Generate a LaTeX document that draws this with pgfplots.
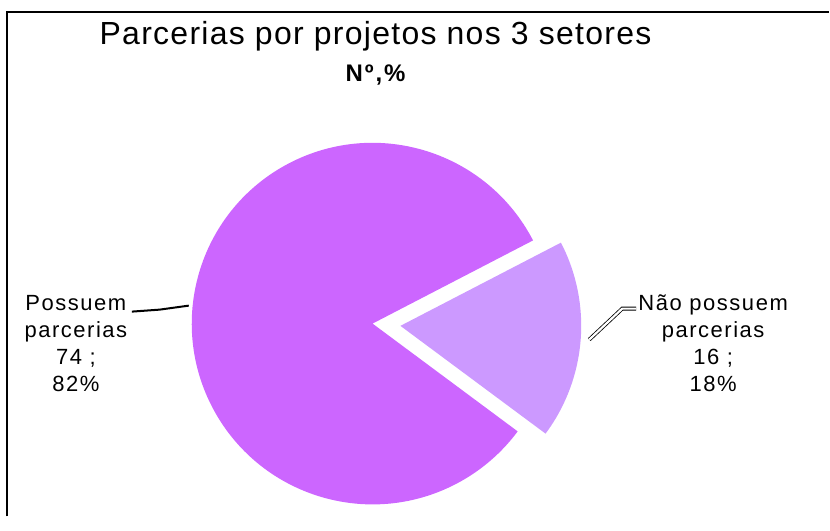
\documentclass[border=0pt]{standalone}
\usepackage{pgfplots}
\pgfplotsset{compat=1.18}
\usepackage{pgfplotstable}
\usepackage{fontspec}
\setmainfont{Liberation Sans}

\definecolor{bigslice}{HTML}{CC66FF}
\definecolor{smallslice}{HTML}{CC99FF}

% slice counts and shares
\pgfplotstableread{
slice count pct
0 74 82
1 16 18
}\piedata

\begin{document}
\begin{tikzpicture}
\pgfplotstablegetelem{0}{count}\of\piedata \let\na\pgfplotsretval
\pgfplotstablegetelem{1}{count}\of\piedata \let\nb\pgfplotsretval
\pgfmathsetmacro{\tot}{\na+\nb}
\pgfmathsetmacro{\angA}{27.4}
\pgfmathsetmacro{\angB}{\angA+360*(\na/\tot)}
\pgfmathsetmacro{\angC}{\angA+360}
\pgfmathsetmacro{\angBis}{(\angB+\angC)/2}
\def\rad{90.5pt}
\begin{axis}[width=415pt, height=258.5pt, scale only axis,
  xmin=0, xmax=830, ymin=0, ymax=517, hide axis, clip=false]
\path (axis cs:0,0) rectangle (axis cs:830,517);
% frame
\draw[line width=1pt] (axis cs:7,0) -- (axis cs:7,505) -- (axis cs:830,505);
% slices
\fill[bigslice] (axis cs:373,193) -- ++(\angA:\rad)
  arc[start angle=\angA, end angle=\angB, radius=\rad] -- cycle;
\begin{scope}[shift={(\angBis:14pt)}]
\fill[smallslice] (axis cs:373,193) -- ++(\angB:\rad)
  arc[start angle=\angB, end angle=\angC, radius=\rad] -- cycle;
\end{scope}
% leader lines
\draw[line width=1pt] (axis cs:132,205) -- (axis cs:160,207) -- (axis cs:189,211);
\draw[line width=0.4pt, double=white, double distance=1.1pt]
  (axis cs:590,177) -- (axis cs:623,208) -- (axis cs:637,208);
% titles
\node[anchor=base, inner sep=0pt, font=\fontsize{16}{19}\selectfont\addfontfeatures{LetterSpace=4}]
  at (axis cs:376,472) {Parcerias por projetos nos 3 setores};
\node[anchor=base, inner sep=0pt, font=\fontsize{12}{14}\selectfont\bfseries\addfontfeatures{LetterSpace=8}]
  at (axis cs:376,435) {Nº,\%};
% data labels
\tikzset{lbl/.style={anchor=base, inner sep=0pt, font=\fontsize{11}{13}\selectfont\addfontfeatures{LetterSpace=7}}}
\node[lbl] at (axis cs:76,206) {Possuem};
\node[lbl] at (axis cs:76,179) {parcerias};
\node[lbl] at (axis cs:76,152) {74 ;};
\node[lbl] at (axis cs:76,125) {82\%};
\node[lbl] at (axis cs:714,206) {Não possuem};
\node[lbl] at (axis cs:714,179) {parcerias};
\node[lbl] at (axis cs:714,152) {16 ;};
\node[lbl] at (axis cs:714,125) {18\%};
\end{axis}
\end{tikzpicture}
\end{document}
